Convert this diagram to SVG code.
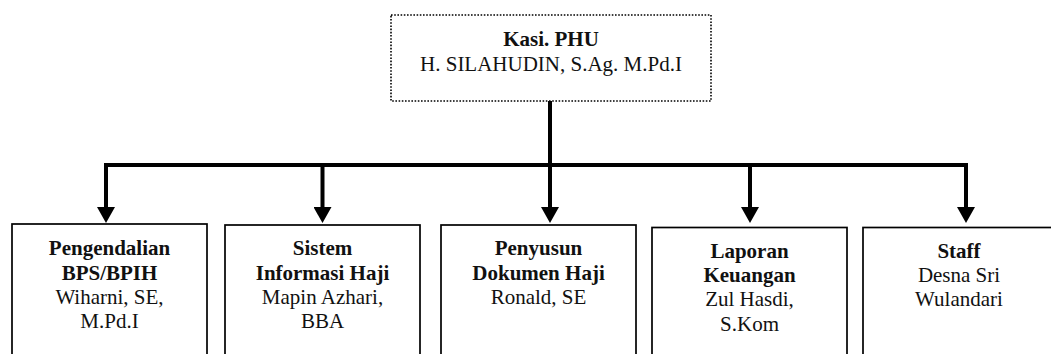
<svg xmlns="http://www.w3.org/2000/svg" width="1051" height="354" viewBox="0 0 1051 354">
  <style>
    .box { fill: #fff; stroke: #000; stroke-width: 1.7; }
    .top { fill: #fff; stroke: #000; stroke-width: 1.6; stroke-dasharray: 1.6 1.6; }
    .t { font-family: "Liberation Serif", "Times New Roman", serif; font-size: 21px; fill: #111; text-anchor: middle; }
    .b { font-weight: bold; }
    .c { stroke: #000; stroke-width: 4; fill: none; }
  </style>
  <defs>
    <marker id="arr" markerUnits="userSpaceOnUse" markerWidth="18" markerHeight="18" viewBox="0 0 16 18" refX="1" refY="9" orient="auto">
      <path d="M0,0 L16,9 L0,18 Z" fill="#000"/>
    </marker>
  </defs>
  <rect width="1051" height="354" fill="#fff"/>

  <g id="connectors">
    <line class="c" x1="550" y1="101" x2="550" y2="208" marker-end="url(#arr)"/>
    <line class="c" x1="104" y1="165" x2="968" y2="165"/>
    <line class="c" x1="106" y1="163" x2="106" y2="208" marker-end="url(#arr)"/>
    <line class="c" x1="322.5" y1="163" x2="322.5" y2="208" marker-end="url(#arr)"/>
    <line class="c" x1="750" y1="163" x2="750" y2="208" marker-end="url(#arr)"/>
    <line class="c" x1="966" y1="163" x2="966" y2="208" marker-end="url(#arr)"/>
  </g>

  <g id="kasi">
    <rect class="top" x="391" y="15" width="320" height="86"/>
    <text class="t b" x="551" y="46">Kasi. PHU</text>
    <text class="t" x="551" y="71">H. SILAHUDIN, S.Ag. M.Pd.I</text>
  </g>

  <g id="pengendalian">
    <rect class="box" x="12" y="224" width="195" height="150"/>
    <text class="t b" x="109.5" y="255">Pengendalian</text>
    <text class="t b" x="109.5" y="280">BPS/BPIH</text>
    <text class="t" x="109.5" y="304">Wiharni, SE,</text>
    <text class="t" x="109.5" y="328">M.Pd.I</text>
  </g>

  <g id="sistem">
    <rect class="box" x="225" y="225" width="195" height="150"/>
    <text class="t b" x="322.5" y="255">Sistem</text>
    <text class="t b" x="322.5" y="280">Informasi Haji</text>
    <text class="t" x="322.5" y="304">Mapin Azhari,</text>
    <text class="t" x="322.5" y="328">BBA</text>
  </g>

  <g id="penyusun">
    <rect class="box" x="441" y="225" width="195" height="150"/>
    <text class="t b" x="538.5" y="255">Penyusun</text>
    <text class="t b" x="538.5" y="280">Dokumen Haji</text>
    <text class="t" x="538.5" y="304">Ronald, SE</text>
  </g>

  <g id="laporan">
    <rect class="box" x="652" y="227.5" width="195" height="150"/>
    <text class="t b" x="749.5" y="258">Laporan</text>
    <text class="t b" x="749.5" y="282">Keuangan</text>
    <text class="t" x="749.5" y="306">Zul Hasdi,</text>
    <text class="t" x="749.5" y="331">S.Kom</text>
  </g>

  <g id="staff">
    <rect class="box" x="863" y="227.5" width="195" height="150"/>
    <text class="t b" x="959" y="258">Staff</text>
    <text class="t" x="959" y="282">Desna Sri</text>
    <text class="t" x="959" y="306">Wulandari</text>
  </g>
</svg>
